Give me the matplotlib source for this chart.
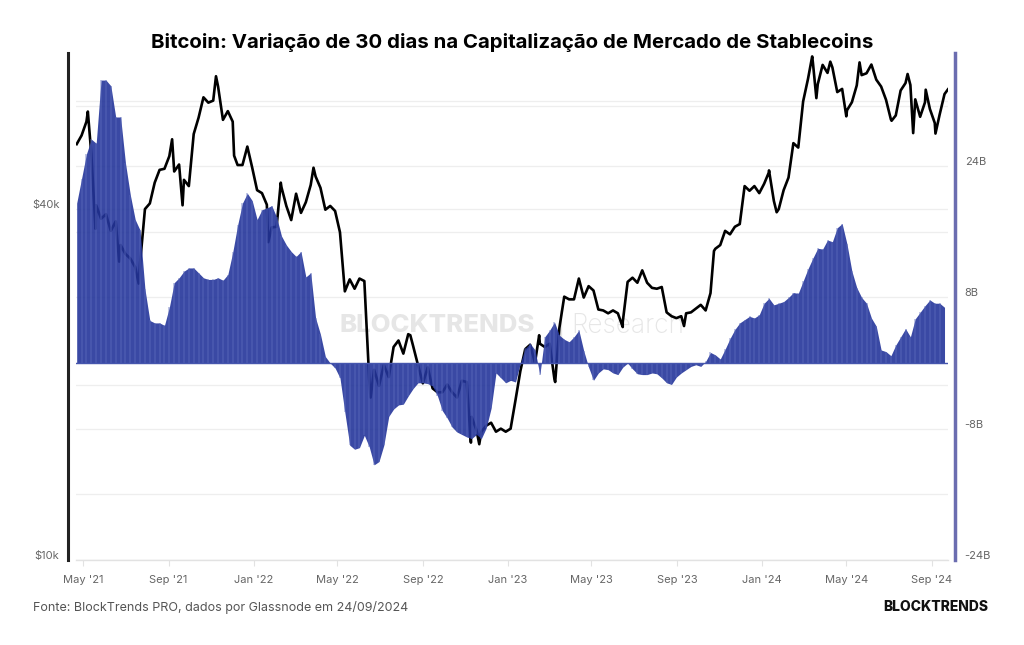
import numpy as np
import pandas as pd
import matplotlib
matplotlib.use('Agg')
import matplotlib.pyplot as plt
import matplotlib.transforms as mtransforms

plt.rcParams['font.family'] = ['Inter', 'DejaVu Sans']

# Dados (semanais, a partir de 22/04/2021)
inicio = '2021-04-22'
fim = '2024-09-24'

# Variação de 30 dias na capitalização de stablecoins (bilhões USD)
stable_var = [
    19.5, 22.5, 25.5, 27.3, 26.8, 34.5, 34.5, 33.8, 30.0, 30.0,
    24.4, 20.5, 17.5, 16.2, 9.0, 5.2, 4.9, 4.9, 4.6, 6.8,
    9.8, 10.4, 11.2, 11.6, 11.6, 11.0, 10.4, 10.2, 10.2, 10.4,
    10.1, 10.8, 13.5, 16.8, 19.5, 20.7, 19.8, 17.5, 18.7, 18.9,
    19.2, 17.8, 15.5, 14.4, 13.6, 13.0, 13.6, 10.5, 11.0, 5.5,
    3.5, 0.8, 0.0, -0.6, -1.8, -6.0, -10.0, -10.5, -10.3, -8.8,
    -10.2, -12.4, -12.0, -10.0, -6.5, -5.6, -5.1, -5.0, -4.0, -3.1,
    -2.4, -2.4, -2.5, -2.8, -4.0, -5.8, -6.7, -7.8, -8.4, -8.7,
    -9.0, -9.2, -8.7, -9.2, -7.9, -5.5, -1.2, -1.8, -2.4, -2.1,
    -2.3, 0.0, 1.8, 2.4, 1.6, -1.4, 3.2, 4.0, 5.0, 3.4,
    2.9, 2.6, 3.2, 4.0, 1.5, -0.5, -2.1, -1.2, -0.7, -0.8,
    -1.2, -1.4, -0.5, 0.0, -0.7, -1.3, -1.4, -1.4, -1.2, -1.3,
    -1.8, -2.4, -2.6, -1.7, -1.2, -0.8, -0.4, -0.2, -0.4, 0.2,
    1.3, 1.0, 0.5, 1.7, 3.0, 4.1, 4.9, 5.3, 5.7, 5.5,
    5.9, 7.3, 7.9, 7.1, 7.3, 7.5, 8.0, 8.6, 8.5, 10.0,
    11.5, 12.8, 14.0, 13.9, 15.0, 14.8, 16.5, 17.0, 14.5, 11.2,
    9.2, 8.0, 7.3, 5.5, 4.5, 1.6, 1.4, 0.9, 2.2, 3.2,
    4.2, 3.2, 5.4, 6.2, 7.0, 7.7, 7.3, 7.3, 6.8,
]

# Preço do Bitcoin (mil USD), mesmas semanas + último dia
btc_preco = [
    # 2021
    51.7, 53.5, 56.5, 49.7, 40.6, 38.5, 39.2, 36.7, 38.1, 34.7,
    33.5, 32.9, 31.8, 32.3, 40.0, 40.9, 44.4, 46.7, 46.9, 49.3,
    46.4, 47.7, 44.9, 43.8, 53.8, 57.4, 62.2, 60.9, 61.4, 64.9,
    56.9, 58.9, 56.5, 47.6, 47.6, 51.2, 47.1,
    # 2022
    43.1, 42.6, 40.7, 37.2, 37.3, 43.6, 40.5, 38.3, 42.5, 39.4,
    41.1, 44.0, 45.5, 43.5, 39.9, 40.5, 39.7, 36.5, 28.9, 30.3,
    29.2, 30.4, 30.1, 20.4, 21.2, 19.9, 21.6, 20.6, 23.2, 23.8,
    22.6, 24.4, 23.3, 21.6, 20.1, 21.4, 19.7, 19.4, 19.4, 20.0,
    19.4, 19.0, 20.3, 20.2, 17.6, 16.7, 16.6, 17.0, 17.2, 16.6,
    16.8, 16.6,
    # 2023
    16.8, 18.8, 21.1, 23.0, 23.4, 21.8, 23.5, 23.2, 23.5, 20.4,
    25.0, 28.3, 28.0, 28.0, 30.4, 28.2, 29.5, 29.0, 26.9, 26.8,
    26.5, 26.8, 26.5, 25.6, 30.0, 30.5, 29.9, 31.4, 29.9, 29.3,
    29.2, 29.4, 26.6, 26.2, 26.0, 26.2, 26.5, 26.6, 27.0, 27.4,
    26.8, 28.7, 34.2, 34.7, 36.7, 36.2, 37.3, 37.7, 43.8, 43.0,
    43.8, 42.6,
    # 2024
    44.2, 46.6, 41.3, 40.0, 43.1, 45.3, 51.9, 51.0, 61.2, 66.9,
    71.4, 65.5, 70.7, 68.5, 70.0, 63.5, 64.3, 59.1, 61.0, 65.2,
    67.9, 68.4, 70.8, 66.7, 64.9, 61.6, 57.0, 57.9, 63.9, 65.8,
    65.3, 61.7, 57.6, 61.0, 59.4, 56.2, 58.1, 63.0,
    64.2,
]

# Máximas e mínimas entre as semanas (mil USD)
extremos_datas = [
    '2021-05-08', '2021-05-19', '2021-06-22', '2021-07-20', '2021-09-06',
    '2021-09-21', '2021-11-08', '2021-12-04', '2022-01-22', '2022-02-09',
    '2022-03-28', '2022-06-18', '2022-08-14', '2022-11-09', '2022-11-21',
    '2023-02-15', '2023-03-10', '2023-06-15', '2023-09-11', '2023-10-24',
    '2024-01-11', '2024-01-22', '2024-03-13', '2024-03-19', '2024-04-08',
    '2024-05-01', '2024-05-20', '2024-07-05', '2024-07-28', '2024-08-05',
    '2024-08-23', '2024-09-06',
]
extremos_preco = [
    58.8, 37.0, 32.5, 29.8, 52.7,
    40.6, 67.6, 49.4, 35.1, 44.4,
    47.1, 19.0, 24.3, 15.9, 15.8,
    24.3, 20.2, 25.1, 25.2, 33.9,
    46.3, 39.5, 73.1, 62.0, 71.6,
    57.7, 71.4, 56.7, 68.2, 54.0,
    64.1, 53.9,
]

x_ticks = ['2021-05-01', '2021-09-01', '2022-01-01', '2022-05-01', '2022-09-01',
           '2023-01-01', '2023-05-01', '2023-09-01', '2024-01-01', '2024-05-01',
           '2024-09-01']
x_labels = ["May '21", "Sep '21", "Jan '22", "May '22", "Sep '22", "Jan '23",
            "May '23", "Sep '23", "Jan '24", "May '24", "Sep '24"]
preco_ticks = [10000, 40000]
preco_labels = ['$10k', '$40k']
stable_ticks = [-24, -8, 8, 24]
stable_labels = ['-24B', '-8B', '8B', '24B']

semanas = pd.date_range(inicio, periods=len(stable_var), freq='7D')
preco = pd.concat([
    pd.Series(btc_preco, index=semanas.append(pd.DatetimeIndex([fim]))),
    pd.Series(extremos_preco, index=pd.to_datetime(extremos_datas)),
]).sort_index()

# Figura
W, H = 1024, 645
fig = plt.figure(figsize=(W / 100, H / 100), dpi=100)
ax = fig.add_axes([76 / W, (H - 560) / H, 872 / W, 507 / H])
ax2 = ax.twinx()

cinza = '#666666'

# Preço (eixo esquerdo, log)
ax.plot(preco.index, preco.values * 1000, color='black', lw=1.9, zorder=3)
ax.set_yscale('log')
ax.set_ylim(10000, 74100)
ax.set_xlim(pd.Timestamp(inicio) - pd.Timedelta(days=1), pd.Timestamp(fim))

# Colunas (eixo direito)
ax2.fill_between(semanas, 0, stable_var, color='#24359a', alpha=0.9, lw=0, zorder=2)
ax2.vlines(semanas[1:-1], 0, stable_var[1:-1], color='#5d6cbc',
           lw=1.1, alpha=0.5, zorder=2)
ax2.axhline(0, color='#4656ae', lw=1.0, zorder=2)
ax2.set_ylim(-24, 37.8)

# Linhas de grade
for v in [10000, 20000, 40000, 60000]:
    ax.axhline(v, color='#eeeeee', lw=0.9, zorder=0)
blend = mtransforms.blended_transform_factory(ax.transAxes, ax2.transData)
for v in range(-24, 33, 8):
    ax.plot([0, 1], [v, v], transform=blend, color='#eeeeee', lw=0.9, zorder=0)

# Eixos
ax.minorticks_off()
ax.set_yticks(preco_ticks)
ax.set_yticklabels(preco_labels)
ax.tick_params(axis='y', length=0, pad=6, labelsize=8, labelcolor=cinza)
ax2.set_yticks(stable_ticks)
ax2.set_yticklabels(stable_labels)
ax2.tick_params(axis='y', length=0, pad=7, labelsize=8, labelcolor=cinza)

ax.set_xticks(pd.to_datetime(x_ticks))
ax.set_xticklabels(x_labels)
ax.tick_params(axis='x', length=4, width=0.8, color='#e2e2e2', pad=7,
               labelsize=8, labelcolor=cinza)

for s in ['top', 'right']:
    ax.spines[s].set_visible(False)
ax.spines['bottom'].set_color('#e2e2e2')
ax.spines['bottom'].set_linewidth(1.0)
ax.spines['left'].set_color('#222222')
ax.spines['left'].set_linewidth(2.2)
ax.spines['left'].set_position(('outward', 6))

for s in ['top', 'left', 'bottom']:
    ax2.spines[s].set_visible(False)
ax2.spines['right'].set_color('#6b6db0')
ax2.spines['right'].set_linewidth(2.5)
ax2.spines['right'].set_position(('outward', 5))

sobe = mtransforms.ScaledTranslation(0, 0.05, fig.dpi_scale_trans)
for lab in ax.get_yticklabels() + ax2.get_yticklabels():
    lab.set_transform(lab.get_transform() + sobe)

# Marca d'água
ax.text(0.526, 0.462, 'BLOCKTRENDS', transform=ax.transAxes, ha='right', va='center',
        fontsize=18.5, fontweight='heavy', color='#e6e6e6', zorder=1)
ax.text(0.556, 0.462, '|', transform=ax.transAxes, ha='center', va='center',
        fontsize=18, color='#e6e6e6', zorder=1)
ax.text(0.568, 0.462, 'Research', transform=ax.transAxes, ha='left', va='center',
        fontsize=19, fontweight='light', color='#e6e6e6', zorder=1)

# Textos
fig.text(0.5, 1 - 43 / H, 'Bitcoin: Variação de 30 dias na Capitalização de Mercado de Stablecoins',
         ha='center', va='center', fontsize=14.7, fontweight='bold', color='black')
fig.text(33 / W, 1 - 607 / H, 'Fonte: BlockTrends PRO, dados por Glassnode em 24/09/2024',
         ha='left', va='center', fontsize=9, color='#555555')
fig.text(988 / W, 1 - 607 / H, 'BLOCKTRENDS', ha='right', va='center',
         fontsize=10, fontweight='heavy', color='#111111')

fig.savefig('out.png', dpi=100, facecolor='white')
